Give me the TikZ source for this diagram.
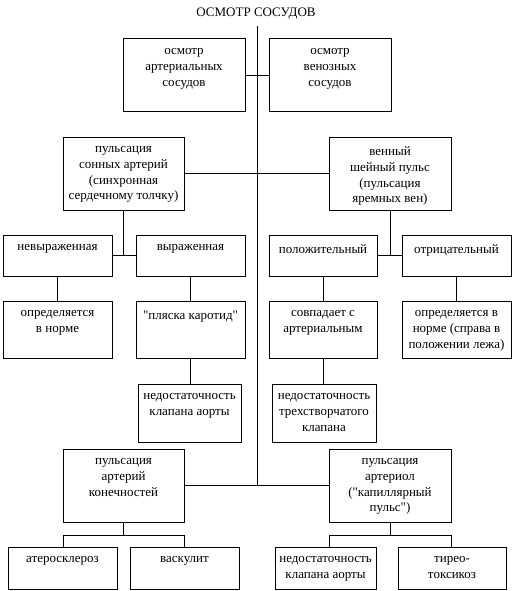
\documentclass[tikz,border=0pt]{standalone}
\usepackage{fontspec}
\setmainfont{Liberation Serif}[Ligatures=TeXOff]
\begin{document}
\begin{tikzpicture}[x=1pt,y=-1pt,
  box/.style={draw,line width=1pt,inner sep=0pt,rectangle},
  txt/.style={font=\fontsize{13}{15.7}\selectfont,align=center,inner sep=0pt,anchor=north},
  conn/.style={line width=1pt}]
\useasboundingbox (0,0) rectangle (513,591);
% title
\node[font=\fontsize{13}{15.7}\selectfont,inner sep=0pt] (title) at (256,14) {ОСМОТР СОСУДОВ};
% boxes: name, center, w, h
\newcommand\mybox[6]{%
  \node[box,minimum width=#4,minimum height=#5] (#1) at (#2,#3) {};
  \node[txt] (#1-t) at ([yshift=-10pt]#1.north) {#6};}
\mybox{art}{184}{75.5}{122}{73}{осмотр\\артериальных\\сосудов}
\mybox{ven}{330}{75.5}{122}{73}{осмотр\\венозных\\сосудов}
\mybox{puls}{123.5}{173.5}{121}{73}{пульсация\\сонных артерий\\(синхронная\\сердечному толчку)}
\mybox{vsh}{390}{173.5}{122}{73}{венный\\шейный пульс\\(пульсация\\яремных вен)}
\mybox{nevyr}{57.5}{255.5}{109}{41}{невыраженная}
\mybox{vyr}{190.5}{255.5}{109}{41}{выраженная}
\mybox{pol}{323}{255.5}{108}{41}{положительный}
\mybox{otr}{456.5}{255.5}{109}{41}{отрицательный}
\mybox{opra}{57.5}{329.5}{109}{57}{определяется\\в норме}
\mybox{plya}{190.5}{329.5}{109}{57}{"пляска каротид"}
\mybox{sovp}{323}{329.5}{108}{57}{совпадает с\\артериальным}
\mybox{oprb}{456.5}{329.5}{109}{57}{определяется в\\норме (справа в\\положении лежа)}
\mybox{neda}{189.5}{413}{103}{58}{недостаточность\\клапана аорты}
\mybox{nedt}{324}{413}{104}{58}{недостаточность\\трехстворчатого\\клапана}
\mybox{kon}{123.5}{485.5}{121}{73}{пульсация\\артерий\\конечностей}
\mybox{arl}{390}{485.5}{122}{73}{пульсация\\артериол\\("капиллярный\\пульс")}
\mybox{ater}{62.5}{568}{109}{42}{атеросклероз}
\mybox{vask}{184.5}{568}{109}{42}{васкулит}
\mybox{nedb}{325.5}{568}{101}{42}{недостаточность\\клапана аорты}
\mybox{tir}{452}{568}{108}{42}{тирео-\\токсикоз}
% coordinates
\coordinate (mtop) at (257,26);
\coordinate (mbot) at (257,486);
\coordinate (kl) at (63,535);
\coordinate (kr) at (184,535);
\coordinate (al) at (329,535);
\coordinate (ar) at (451,535);
% connectors
\draw[conn] (mtop) -- (mbot);
\draw[conn] (art.east) -- (ven.west);
\draw[conn] (puls.east) -- (vsh.west);
\draw[conn] (kon.east) -- (arl.west);
\draw[conn] (puls.south) -- (puls.south |- nevyr.east);
\draw[conn] (nevyr.east) -- (vyr.west);
\draw[conn] (vsh.south) -- (vsh.south |- pol.east);
\draw[conn] (pol.east) -- (otr.west);
\draw[conn] (nevyr.south) -- (opra.north);
\draw[conn] (vyr.south) -- (plya.north);
\draw[conn] (pol.south) -- (sovp.north);
\draw[conn] (otr.south) -- (oprb.north);
\draw[conn] (plya.south) -- (plya.south |- neda.north);
\draw[conn] (sovp.south) -- (sovp.south |- nedt.north);
\draw[conn] (kon.south) -- (kon.south |- kl);
\draw[conn] (kl |- ater.north) -- (kl) -- (kr) -- (kr |- vask.north);
\draw[conn] (arl.south) -- (arl.south |- al);
\draw[conn] (al |- nedb.north) -- (al) -- (ar) -- (ar |- tir.north);
\end{tikzpicture}
\end{document}
